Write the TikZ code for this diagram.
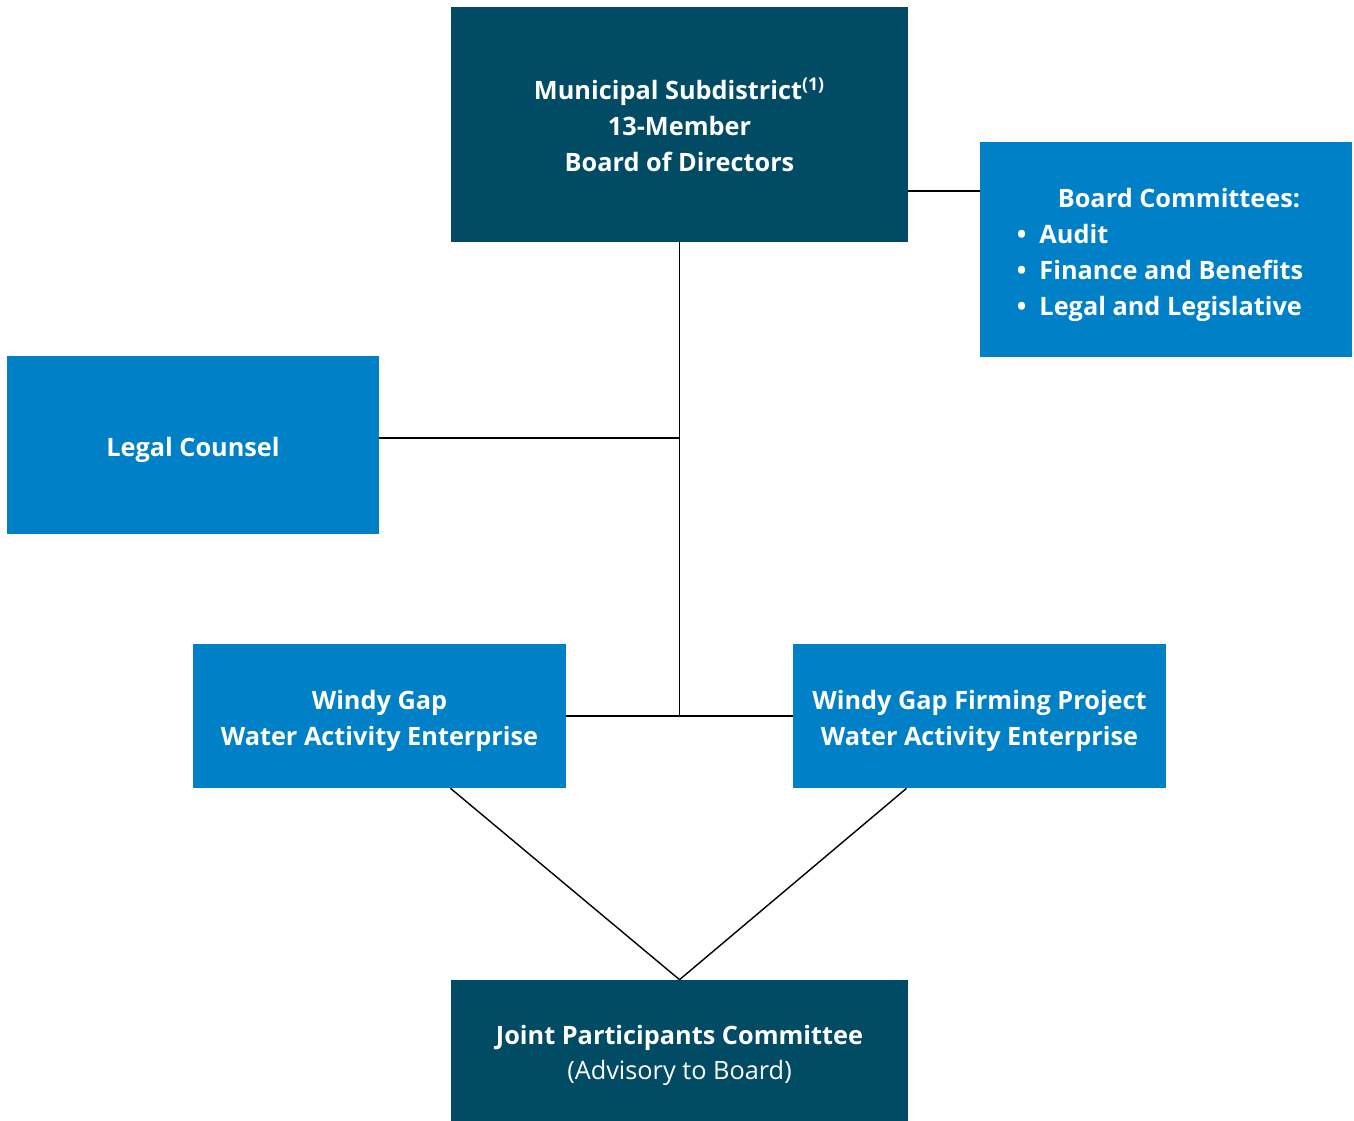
\documentclass[tikz,border=0pt]{standalone}
\usepackage{fontspec}
\setmainfont{Open Sans}
\usepackage{xcolor}
\usetikzlibrary{positioning}

\definecolor{darkteal}{HTML}{024B64}
\definecolor{midblue}{HTML}{0080C6}

\begin{document}
\begin{tikzpicture}[
    x=0.02cm, y=-0.02cm,
    box/.style={rectangle, inner sep=0pt, align=center, text=white,
        font=\fontsize{14.4}{20.4}\selectfont\bfseries},
    dark/.style={box, fill=darkteal},
    light/.style={box, fill=midblue},
    lower/.style={execute at begin node={\rule{0pt}{#1}}},
    link/.style={draw=black, line width=0.8pt}
]
\useasboundingbox (0,0) rectangle (1354,1121);

% Board
\node[dark, minimum width=9.14cm, minimum height=4.7cm] (board) at (679.5,124.5)
    {Municipal Subdistrict\textsuperscript{(1)}\\13-Member\\Board of Directors};

% Committees
\node[light, minimum width=7.44cm, minimum height=4.3cm] (comm) at (1166,249.5)
    {\begin{tabular}{@{}l@{\hspace{0.24cm}}}
     \rule{0pt}{20pt}\hspace{0.82cm}Board Committees:\\
     \textbullet\ \ Audit\\
     \textbullet\ \ Finance and Benefits\\
     \textbullet\ \ Legal and Legislative
     \end{tabular}};

% Counsel
\node[light, lower=16.5pt, minimum width=7.44cm, minimum height=3.56cm] (counsel) at (193,445)
    {Legal Counsel};

% Enterprises
\node[light, lower=37pt, minimum width=7.46cm, minimum height=2.88cm] (wg) at (379.5,716)
    {Windy Gap\\Water Activity Enterprise};
\node[light, lower=37pt, minimum width=7.46cm, minimum height=2.88cm] (firm) at (979.5,716)
    {Windy Gap Firming Project\\Water Activity Enterprise};

% Joint committee
\node[dark, lower=37pt, minimum width=9.14cm, minimum height=2.82cm] (joint) at (679.5,1050.5)
    {Joint Participants Committee\\\mdseries(Advisory to Board)};

% Lines
\coordinate (mid) at (board.south |- wg.east);
\draw[link] (board.south) -- (mid);
\draw[link] (counsel.east |- 0,438) -- (board.south |- 0,438);
\draw[link] (wg.east) -- (firm.west);
\draw[link] (board.east |- 0,191) -- (comm.west |- 0,191);
\draw[link] (wg.south) ++(71,0) -- (joint.north);
\draw[link] (firm.south) ++(-73,0) -- (joint.north);

\end{tikzpicture}
\end{document}
